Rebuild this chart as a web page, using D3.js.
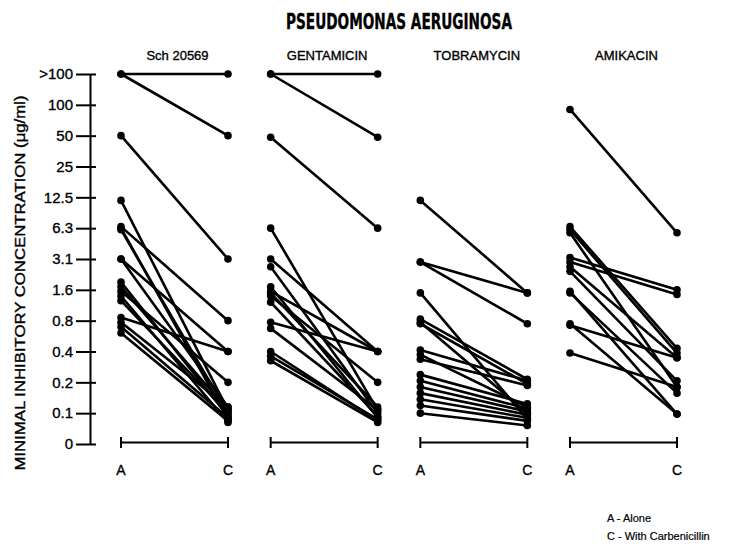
<!DOCTYPE html>
<html>
<head>
<meta charset="utf-8">
<script src="https://cdn.jsdelivr.net/npm/d3@7"></script>
<style>
  body { margin: 0; background: #fff; }
  svg { display: block; }
  text { font-family: "Liberation Sans", Arial, sans-serif; fill: #000; stroke: #000; stroke-width: 0.35px; }
</style>
</head>
<body>
<div id="chart"></div>
<script>
// MIC scale is an ordinal dilution ladder, one step per tick
var tickLabels = ["0", "0.1", "0.2", "0.4", "0.8", "1.6", "3.1", "6.3", "12.5", "25", "50", "100", ">100"];
var drugs = ["Sch 20569", "GENTAMICIN", "TOBRAMYCIN", "AMIKACIN"];
var conditions = ["A", "C"];

// values in ladder steps (0 = "0", 12 = ">100"), small offsets where dots stack
var schAlone  = [12, 12, 10, 7.9, 7.05, 6.95, 7.0, 6.0, 6.0, 5.25, 5.1, 4.95, 4.8, 4.65, 4.1, 3.95, 3.8, 3.6];
var schCarb   = [12, 10, 6, 1.1, 4, 1.0, 0.8, 3.0, 1.2, 0.9, 1.1, 2.0, 0.7, 1.0, 3.0, 1.2, 0.85, 0.75];
var gentAlone = [12, 12, 9.95, 7.0, 6.0, 5.75, 4.95, 4.8, 4.6, 4.9, 5.1, 3.95, 3.75, 3.0, 2.85, 2.7];
var gentCarb  = [12, 9.95, 7.0, 1.1, 3.0, 1.0, 3.0, 2.0, 0.9, 1.2, 0.85, 3.0, 1.1, 0.75, 0.8, 0.7];
var tobAlone  = [7.9, 5.9, 5.9, 4.9, 4.05, 3.9, 3.95, 3.05, 2.9, 2.75, 2.25, 2.05, 1.85, 1.65, 1.45, 1.25, 1.0];
var tobCarb   = [4.9, 4.9, 3.9, 0.8, 2.1, 1.95, 1.0, 2.05, 1.2, 1.9, 1.3, 1.15, 1.05, 0.95, 0.85, 0.75, 0.6];
var amiAlone  = [10.85, 7.05, 6.95, 6.85, 6.05, 5.9, 5.75, 5.6, 4.9, 4.95, 3.9, 3.85, 2.95];
var amiCarb   = [6.85, 3.1, 2.95, 1.85, 5.0, 4.85, 2.8, 2.05, 1.65, 0.97, 0.97, 2.8, 1.85];

var alone = [schAlone, gentAlone, tobAlone, amiAlone];
var withCarb = [schCarb, gentCarb, tobCarb, amiCarb];

var width = 745, height = 544;

var svg = d3.select("#chart").append("svg")
  .attr("width", width)
  .attr("height", height);

var y = d3.scaleLinear()
  .domain([0, 12])
  .range([444, 74]);

var panelX = d3.scalePoint()
  .domain(drugs)
  .range([121, 570]);

var condX = d3.scalePoint()
  .domain(conditions)
  .range([0, 107]);

// y axis
var yAxis = d3.axisLeft(y)
  .tickValues(d3.range(tickLabels.length))
  .tickFormat(function(d) { return tickLabels[d]; })
  .tickSize(14)
  .tickSizeOuter(0)
  .tickPadding(4);

var yg = svg.append("g")
  .attr("transform", "translate(90,0)")
  .call(yAxis);
yg.select(".domain").attr("stroke", "#000").attr("stroke-width", 2);
yg.selectAll(".tick line").attr("stroke", "#000").attr("stroke-width", 2).attr("x2", 6).attr("x1", -14);
yg.selectAll(".tick text")
  .attr("x", -17)
  .style("font-size", "15px")
  .style("font-family", "'Liberation Sans', Arial, sans-serif");

// y label
svg.append("text")
  .attr("transform", "rotate(-90)")
  .attr("x", -283)
  .attr("y", 25)
  .attr("text-anchor", "middle")
  .attr("textLength", 375)
  .attr("lengthAdjust", "spacingAndGlyphs")
  .style("font-size", "14px")
  .text("MINIMAL INHIBITORY CONCENTRATION (\u03bcg/ml)");

// main title
svg.append("text")
  .attr("x", 399)
  .attr("y", 29)
  .attr("text-anchor", "middle")
  .attr("textLength", 226)
  .attr("lengthAdjust", "spacingAndGlyphs")
  .style("font-family", "'Liberation Sans Narrow', 'DejaVu Sans Condensed', sans-serif")
  .style("font-weight", "bold")
  .style("font-size", "21px")
  .text("PSEUDOMONAS AERUGINOSA");

var panels = svg.selectAll(".panel")
  .data(drugs)
  .enter().append("g")
  .attr("class", "panel")
  .attr("transform", function(d) { return "translate(" + panelX(d) + ",0)"; });

// panel titles
panels.append("text")
  .attr("x", condX.range()[1] / 2 + 3)
  .attr("y", 60)
  .attr("text-anchor", "middle")
  .style("font-size", "13px")
  .text(function(d) { return d; });

// bracket under each panel
panels.append("path")
  .attr("d", "M" + condX("A") + ",437V448M" + condX("A") + ",442.5H" + condX("C") + "M" + condX("C") + ",437V448")
  .attr("fill", "none")
  .attr("stroke", "#000")
  .attr("stroke-width", 2);

panels.selectAll(".cond")
  .data(conditions)
  .enter().append("text")
  .attr("class", "cond")
  .attr("x", function(d) { return condX(d); })
  .attr("y", 475)
  .attr("text-anchor", "middle")
  .style("font-size", "14px")
  .text(function(d) { return d; });

// lines and dots
panels.each(function(drug, i) {
  var g = d3.select(this);
  var pairs = alone[i].map(function(a, j) { return [a, withCarb[i][j]]; });

  g.selectAll(".pair")
    .data(pairs)
    .enter().append("line")
    .attr("class", "pair")
    .attr("x1", condX("A"))
    .attr("x2", condX("C"))
    .attr("y1", function(d) { return y(d[0]); })
    .attr("y2", function(d) { return y(d[1]); })
    .attr("stroke", "#000")
    .attr("stroke-width", 2.6);

  g.selectAll(".dotA")
    .data(alone[i])
    .enter().append("circle")
    .attr("cx", condX("A"))
    .attr("cy", function(d) { return y(d); })
    .attr("r", 3.8)
    .attr("fill", "#000");

  g.selectAll(".dotC")
    .data(withCarb[i])
    .enter().append("circle")
    .attr("cx", condX("C"))
    .attr("cy", function(d) { return y(d); })
    .attr("r", 3.8)
    .attr("fill", "#000");
});

// legend
var legend = ["A - Alone", "C - With Carbenicillin"];
svg.selectAll(".legend")
  .data(legend)
  .enter().append("text")
  .attr("class", "legend")
  .attr("x", 607)
  .attr("y", function(d, i) { return 522 + i * 18; })
  .style("font-size", "11px")
  .style("stroke-width", "0.2px")
  .text(function(d) { return d; });
</script>
</body>
</html>
